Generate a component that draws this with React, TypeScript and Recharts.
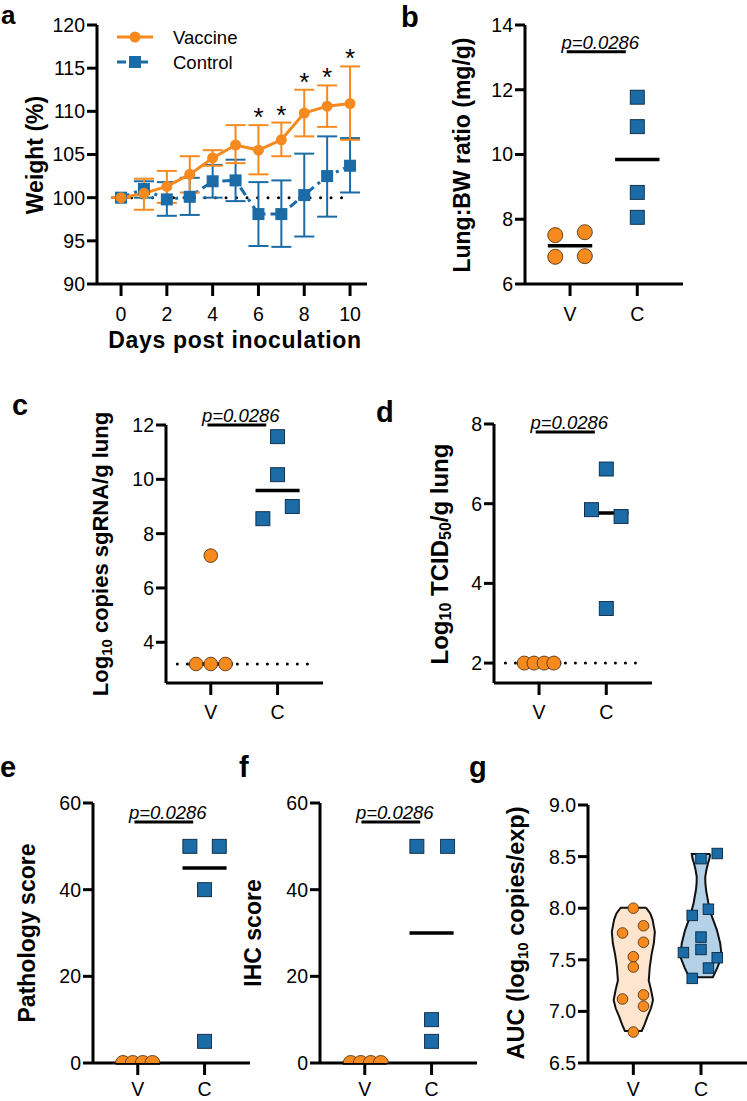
import React from 'react';
import {
  ComposedChart,
  Line,
  Scatter,
  XAxis,
  YAxis,
  ErrorBar,
  ReferenceLine,
  Legend,
  Label,
} from 'recharts';

const FONT = '"Liberation Sans", Arial, Helvetica, sans-serif';
const ORANGE = '#F68A1F';
const BLUE = '#1A6BA6';
const ORANGE_FILL = '#FDE5D0';
const BLUE_FILL = '#B4D2E7';

// ---------- Panel a: weight ----------
const days = [0, 1, 2, 3, 4, 5, 6, 7, 8, 9, 10];
const vaccineMean = [100, 100.5, 101.3, 102.7, 104.6, 106.1, 105.5, 106.7, 109.8, 110.6, 110.9];
const vaccineUpper = [100, 102.2, 103.1, 104.8, 105.5, 108.4, 108.4, 108.7, 112.5, 113.0, 115.2];
const vaccineLower = [100, 98.6, 99.4, 100.6, 103.7, 104.0, 102.7, 104.8, 107.1, 108.2, 106.7];
const controlMean = [100, 101.0, 99.8, 100.1, 101.9, 102.0, 98.1, 98.1, 100.3, 102.5, 103.7];
const controlUpper = [100, 101.9, 101.8, 102.3, 103.8, 104.4, 101.8, 102.0, 105.1, 107.1, 106.9];
const controlLower = [100, 100.0, 97.9, 98.0, 100.0, 99.6, 94.4, 94.3, 95.5, 97.8, 100.6];
const starDays = [6, 7, 8, 9, 10];
const weightTicks = [90, 95, 100, 105, 110, 115, 120];
const dayTicks = [0, 2, 4, 6, 8, 10];
const baselineWeight = 100;

// ---------- categorical groups ----------
const groups = ['V', 'C'];

// Panel b: lung:BW ratio
const lungV = [7.51, 7.6, 6.84, 6.86];
const lungVOff = [-0.22, 0.22, -0.22, 0.22];
const lungC = [11.77, 10.86, 8.83, 8.06];
const lungCOff = [0, 0, 0, 0];
const lungTicks = [6, 8, 10, 12, 14];

// Panel c: sgRNA
const sgV = [7.19, 3.2, 3.2, 3.2];
const sgVOff = [0, -0.22, 0, 0.22];
const sgC = [11.57, 10.17, 8.55, 9.0];
const sgCOff = [0, 0, -0.22, 0.22];
const sgTicks = [4, 6, 8, 10, 12];
const sgLod = 3.2;

// Panel d: TCID50
const tcV = [2, 2, 2, 2];
const tcVOff = [-0.22, -0.075, 0.075, 0.22];
const tcC = [6.87, 5.85, 5.68, 3.37];
const tcCOff = [0, -0.22, 0.22, 0];
const tcTicks = [2, 4, 6, 8];
const tcLod = 2;

// Panel e: pathology
const pathV = [0, 0, 0, 0];
const pathVOff = [-0.22, -0.075, 0.075, 0.22];
const pathC = [50, 50, 40, 5];
const pathCOff = [-0.22, 0.22, 0, 0];
const scoreTicks = [0, 20, 40, 60];

// Panel f: IHC
const ihcV = [0, 0, 0, 0];
const ihcVOff = [-0.21, -0.06, 0.09, 0.24];
const ihcC = [50, 50, 10, 5];
const ihcCOff = [-0.22, 0.24, 0, 0];

// Panel g: AUC violins
const aucV = [8.0, 7.83, 7.76, 7.67, 7.53, 7.43, 7.16, 7.12, 7.05, 6.8];
const aucVOff = [0, 0.15, -0.16, 0.15, 0, 0, 0.15, -0.16, 0.15, 0];
const aucC = [8.53, 8.48, 7.99, 7.93, 7.72, 7.6, 7.57, 7.52, 7.42, 7.32];
const aucCOff = [0.24, 0, 0.11, -0.13, 0, 0, -0.26, 0.24, 0.11, -0.13];
const aucTicks = [6.5, 7.0, 7.5, 8.0, 8.5, 9.0];
const violinVY = [8.005, 7.95, 7.89, 7.77, 7.66, 7.55, 7.43, 7.3, 7.21, 7.11, 7.03, 6.95, 6.87, 6.81];
const violinVHW = [0.187, 0.25, 0.284, 0.318, 0.303, 0.269, 0.243, 0.228, 0.261, 0.291, 0.261, 0.209, 0.164, 0.124];
const violinCY = [8.525, 8.48, 8.435, 8.37, 8.305, 8.24, 8.176, 8.05, 7.92, 7.79, 7.66, 7.53, 7.42, 7.33];
const violinCHW = [0.137, 0.125, 0.104, 0.08, 0.063, 0.065, 0.075, 0.109, 0.161, 0.234, 0.284, 0.306, 0.239, 0.175];

const pLabel = 'p=0.0286';

// ---------- helpers ----------
const CAT_DOMAIN: [number, number] = [0.33, 2.68];
const V_POS = 1;
const C_POS = 2;
const MED_HW = 0.33;

const median = (a: number[]) => {
  const s = [...a].sort((x, y) => x - y);
  const n = s.length;
  return n % 2 ? s[(n - 1) / 2] : (s[n / 2 - 1] + s[n / 2]) / 2;
};
const quantile = (a: number[], p: number) => {
  const s = [...a].sort((x, y) => x - y);
  const n = s.length;
  const pos = p * (n + 1);
  const lo = Math.floor(pos);
  const fr = pos - lo;
  if (lo < 1) return s[0];
  if (lo >= n) return s[n - 1];
  return s[lo - 1] + fr * (s[lo] - s[lo - 1]);
};
const pts = (vals: number[], offs: number[], center: number) =>
  vals.map((v, i) => ({ x: center + offs[i], y: v }));
const outline = (center: number, ys: number[], hws: number[]) => {
  const right = ys.map((y, i) => ({ x: center + hws[i], y }));
  const left = ys.map((y, i) => ({ x: center - hws[i], y })).reverse();
  return [...right, ...left, right[0]];
};
const hwAt = (ys: number[], hws: number[], y: number) => {
  for (let i = 0; i < ys.length - 1; i++) {
    const a = ys[i];
    const b = ys[i + 1];
    if ((y <= a && y >= b) || (y >= a && y <= b)) {
      const t = (y - a) / (b - a);
      return hws[i] + t * (hws[i + 1] - hws[i]);
    }
  }
  return hws[hws.length - 1];
};

const axisStyle = { stroke: '#000', strokeWidth: 3 };
const tickStyle = { fill: '#000', fontSize: 19.5, fontFamily: FONT };

const circleShape = (r: number) => (p: any) => (
  <circle cx={p.cx} cy={p.cy} r={r} fill={ORANGE} stroke="#5a3510" strokeWidth={0.9} />
);
const squareShape = (s: number) => (p: any) => (
  <rect x={p.cx - s / 2} y={p.cy - s / 2} width={s} height={s} fill={BLUE} stroke="#0c2840" strokeWidth={0.9} />
);
const emptyShape = () => <g />;

const yTitle = (cx: number, cy: number, content: React.ReactNode, fontSize = 23) => (
  <Label
    content={() => (
      <text
        x={cx}
        y={cy}
        transform={`rotate(-90 ${cx} ${cy})`}
        textAnchor="middle"
        dominantBaseline="central"
        fontFamily={FONT}
        fontWeight="bold"
        fontSize={fontSize}
        fill="#000"
      >
        {content}
      </text>
    )}
  />
);

// ---------- Panel A ----------
const weightData = days.map((d, i) => ({
  day: d,
  base: baselineWeight,
  vac: vaccineMean[i],
  vacErr: [vaccineMean[i] - vaccineLower[i], vaccineUpper[i] - vaccineMean[i]],
  ctl: controlMean[i],
  ctlErr: [controlMean[i] - controlLower[i], controlUpper[i] - controlMean[i]],
}));
const starData = starDays.map((d) => ({ day: d, y: vaccineUpper[days.indexOf(d)] }));

const WeightLegend = () => (
  <svg width={150} height={50} style={{ overflow: 'visible' }}>
    <line x1={4} x2={40} y1={13} y2={13} stroke={ORANGE} strokeWidth={3} />
    <circle cx={22} cy={13} r={5.5} fill={ORANGE} />
    <text x={60} y={13} dominantBaseline="central" fontSize={18.5} fontFamily={FONT} fill="#000">
      Vaccine
    </text>
    <line x1={4} x2={40} y1={38} y2={38} stroke={BLUE} strokeWidth={3} strokeDasharray="9 5 3 5" />
    <rect x={16} y={32} width={12} height={12} fill={BLUE} />
    <text x={60} y={38} dominantBaseline="central" fontSize={18.5} fontFamily={FONT} fill="#000">
      Control
    </text>
  </svg>
);

const PanelA = () => (
  <div style={{ position: 'absolute', left: 0, top: 0 }}>
    <ComposedChart width={380} height={362} data={weightData} margin={{ top: 25, right: 13, left: 0, bottom: 0 }}>
      <XAxis
        type="number"
        dataKey="day"
        domain={[-1.05, 10.74]}
        allowDataOverflow
        ticks={dayTicks}
        height={78}
        axisLine={axisStyle}
        tickLine={axisStyle}
        tickSize={12}
        tickMargin={11}
        tick={tickStyle}
      >
        <Label
          content={() => (
            <text x={235} y={340} textAnchor="middle" dominantBaseline="central" fontFamily={FONT} fontWeight="bold" fontSize={23} letterSpacing={0.7} fill="#000">
              Days post inoculation
            </text>
          )}
        />
      </XAxis>
      <YAxis
        type="number"
        domain={[90, 120]}
        allowDataOverflow
        ticks={weightTicks}
        width={97}
        axisLine={axisStyle}
        tickLine={axisStyle}
        tickSize={10}
        tickMargin={2}
        tick={tickStyle}
      >
        {yTitle(35, 155, 'Weight (%)')}
      </YAxis>
      <Legend
        layout="horizontal"
        verticalAlign="middle"
        align="center"
        content={() => <WeightLegend />}
        wrapperStyle={{ left: 113, top: 24, width: 150, height: 50 }}
      />
      <Line
        dataKey="base"
        stroke="#000"
        strokeWidth={3}
        strokeDasharray="0 10.5"
        strokeLinecap="round"
        dot={false}
        activeDot={false}
        legendType="none"
        isAnimationActive={false}
      />
      <Line
        dataKey="ctl"
        stroke={BLUE}
        strokeWidth={3}
        strokeDasharray="9 5 3 5"
        isAnimationActive={false}
        activeDot={false}
        dot={(p: any) => (
          <rect key={`c${p.index}`} x={p.cx - 6} y={p.cy - 6} width={12} height={12} fill={BLUE} />
        )}
      >
        <ErrorBar dataKey="ctlErr" direction="y" width={10} stroke={BLUE} strokeWidth={2} />
      </Line>
      <Line
        dataKey="vac"
        stroke={ORANGE}
        strokeWidth={3}
        isAnimationActive={false}
        activeDot={false}
        dot={(p: any) => <circle key={`v${p.index}`} cx={p.cx} cy={p.cy} r={5.5} fill={ORANGE} />}
      >
        <ErrorBar dataKey="vacErr" direction="y" width={10} stroke={ORANGE} strokeWidth={2} />
      </Line>
      <Scatter
        data={starData}
        dataKey="y"
        isAnimationActive={false}
        legendType="none"
        shape={(p: any) => (
          <text x={p.cx} y={p.cy + 1} textAnchor="middle" fontSize={26} fontFamily={FONT} fill="#000">
            *
          </text>
        )}
      />
    </ComposedChart>
  </div>
);

// ---------- generic dot panel ----------
type DotPanelProps = {
  left: number;
  top: number;
  width: number;
  height: number;
  yWidth: number;
  mTop: number;
  mRight: number;
  xHeight: number;
  xTickMargin: number;
  yDomain: [number, number];
  yTicks: number[];
  vVals: number[];
  vOff: number[];
  cVals: number[];
  cOff: number[];
  pY: number;
  lod?: number;
  title: React.ReactNode;
  rCircle: number;
  sSquare: number;
};

const catFmt = (v: number) => (v === V_POS ? groups[0] : groups[1]);

const DotPanel = (p: DotPanelProps) => {
  const vMed = median(p.vVals);
  const cMed = median(p.cVals);
  return (
    <div style={{ position: 'absolute', left: p.left, top: p.top }}>
      <ComposedChart width={p.width} height={p.height} margin={{ top: p.mTop, right: p.mRight, left: 0, bottom: 0 }}>
        <XAxis
          type="number"
          dataKey="x"
          domain={CAT_DOMAIN}
          allowDataOverflow
          ticks={[V_POS, C_POS]}
          tickFormatter={catFmt}
          height={p.xHeight}
          axisLine={axisStyle}
          tickLine={axisStyle}
          tickSize={12}
          tickMargin={p.xTickMargin}
          tick={tickStyle}
        />
        <YAxis
          type="number"
          domain={p.yDomain}
          allowDataOverflow
          ticks={p.yTicks}
          width={p.yWidth}
          axisLine={axisStyle}
          tickLine={axisStyle}
          tickSize={10}
          tickMargin={2}
          tick={tickStyle}
        >
          {p.title}
        </YAxis>
        {p.lod !== undefined && (
          <ReferenceLine
            segment={[
              { x: 0.5, y: p.lod },
              { x: 2.52, y: p.lod },
            ]}
            stroke="#000"
            strokeWidth={3}
            strokeDasharray="0 10"
            strokeLinecap="round"
            ifOverflow="visible"
          />
        )}
        <Scatter data={pts(p.vVals, p.vOff, V_POS)} dataKey="y" shape={circleShape(p.rCircle)} isAnimationActive={false} />
        <Scatter data={pts(p.cVals, p.cOff, C_POS)} dataKey="y" shape={squareShape(p.sSquare)} isAnimationActive={false} />
        <ReferenceLine
          segment={[
            { x: V_POS - MED_HW, y: vMed },
            { x: V_POS + MED_HW, y: vMed },
          ]}
          stroke="#000"
          strokeWidth={3.5}
          ifOverflow="visible"
        />
        <ReferenceLine
          segment={[
            { x: C_POS - MED_HW, y: cMed },
            { x: C_POS + MED_HW, y: cMed },
          ]}
          stroke="#000"
          strokeWidth={3.5}
          ifOverflow="visible"
        />
        <ReferenceLine
          segment={[
            { x: 0.95, y: p.pY },
            { x: 1.83, y: p.pY },
          ]}
          stroke="#000"
          strokeWidth={3}
          ifOverflow="visible"
          label={{
            value: pLabel,
            position: 'top',
            offset: 3,
            fontStyle: 'italic',
            fontSize: 18.5,
            fontFamily: FONT,
            fill: '#000',
            dx: 4,
          }}
        />
      </ComposedChart>
    </div>
  );
};

// ---------- Panel G ----------
const vMedAuc = median(aucV);
const cMedAuc = median(aucC);
const violinLines = [
  { c: V_POS, y: vMedAuc, ys: violinVY, hws: violinVHW, kind: 'med' },
  { c: V_POS, y: quantile(aucV, 0.25), ys: violinVY, hws: violinVHW, kind: 'q' },
  { c: V_POS, y: quantile(aucV, 0.75), ys: violinVY, hws: violinVHW, kind: 'q' },
  { c: C_POS, y: cMedAuc, ys: violinCY, hws: violinCHW, kind: 'med' },
  { c: C_POS, y: quantile(aucC, 0.25), ys: violinCY, hws: violinCHW, kind: 'q' },
  { c: C_POS, y: quantile(aucC, 0.75), ys: violinCY, hws: violinCHW, kind: 'q' },
];

const PanelG = () => (
  <div style={{ position: 'absolute', left: 470, top: 740 }}>
    <ComposedChart width={277} height={361} margin={{ top: 65, right: 0, left: 0, bottom: 0 }}>
      <XAxis
        type="number"
        dataKey="x"
        domain={CAT_DOMAIN}
        allowDataOverflow
        ticks={[V_POS, C_POS]}
        tickFormatter={catFmt}
        height={38}
        axisLine={axisStyle}
        tickLine={axisStyle}
        tickSize={12}
        tickMargin={7}
        tick={tickStyle}
      />
      <YAxis
        type="number"
        domain={[6.5, 9.0]}
        allowDataOverflow
        ticks={aucTicks}
        tickFormatter={(v: number) => v.toFixed(1)}
        width={118}
        axisLine={axisStyle}
        tickLine={axisStyle}
        tickSize={10}
        tickMargin={2}
        tick={tickStyle}
      >
        {yTitle(
          46,
          193,
          <>
            <tspan>AUC (log</tspan>
            <tspan fontSize={15} dy={6}>10</tspan>
            <tspan dy={-6}> copies/exp)</tspan>
          </>,
          23.5
        )}
      </YAxis>
      <Scatter
        data={outline(V_POS, violinVY, violinVHW)}
        dataKey="y"
        shape={emptyShape}
        line={{ fill: ORANGE_FILL, stroke: '#111', strokeWidth: 2 }}
        lineType="joint"
        lineJointType="linear"
        isAnimationActive={false}
      />
      <Scatter
        data={outline(C_POS, violinCY, violinCHW)}
        dataKey="y"
        shape={emptyShape}
        line={{ fill: BLUE_FILL, stroke: '#111', strokeWidth: 2 }}
        lineType="joint"
        lineJointType="linear"
        isAnimationActive={false}
      />
      <Scatter data={pts(aucV, aucVOff, V_POS)} dataKey="y" shape={circleShape(5.3)} isAnimationActive={false} />
      <Scatter data={pts(aucC, aucCOff, C_POS)} dataKey="y" shape={squareShape(10.5)} isAnimationActive={false} />
      {violinLines.map((l, i) => {
        const hw = hwAt(l.ys, l.hws, l.y);
        return (
          <ReferenceLine
            key={i}
            segment={[
              { x: l.c - hw, y: l.y },
              { x: l.c + hw, y: l.y },
            ]}
            stroke={l.kind === 'med' ? '#000' : '#666'}
            strokeWidth={l.kind === 'med' ? 2 : 1}
            strokeDasharray={l.kind === 'med' ? '5 3' : '1.5 2'}
            ifOverflow="visible"
          />
        );
      })}
    </ComposedChart>
  </div>
);

const letters = [
  { t: 'a', x: 1, y: 24, s: 26 },
  { t: 'b', x: 401, y: 27, s: 29 },
  { t: 'c', x: 12, y: 415, s: 29 },
  { t: 'd', x: 376, y: 422, s: 29 },
  { t: 'e', x: 0, y: 777, s: 29 },
  { t: 'f', x: 239, y: 777, s: 29 },
  { t: 'g', x: 469, y: 777, s: 29 },
];

export default function App() {
  return (
    <div style={{ position: 'relative', width: 747, height: 1101, background: '#fff', fontFamily: FONT, overflow: 'hidden' }}>
      <style>{'body{margin:0;}'}</style>
      <PanelA />
      <DotPanel
        left={380}
        top={0}
        width={367}
        height={350}
        yWidth={145}
        mTop={25}
        mRight={64}
        xHeight={66}
        xTickMargin={11}
        yDomain={[6, 14]}
        yTicks={lungTicks}
        vVals={lungV}
        vOff={lungVOff}
        cVals={lungC}
        cOff={lungCOff}
        pY={13.17}
        rCircle={7.5}
        sSquare={14}
        title={yTitle(82, 155, 'Lung:BW ratio (mg/g)')}
      />
      <DotPanel
        left={0}
        top={380}
        width={370}
        height={352}
        yWidth={166}
        mTop={45}
        mRight={47}
        xHeight={49}
        xTickMargin={10}
        yDomain={[2.5, 12]}
        yTicks={sgTicks}
        vVals={sgV}
        vOff={sgVOff}
        cVals={sgC}
        cOff={sgCOff}
        pY={12}
        lod={sgLod}
        rCircle={6.8}
        sSquare={14}
        title={yTitle(
          100,
          174,
          <>
            <tspan>Log</tspan>
            <tspan fontSize={15} dy={6}>10</tspan>
            <tspan dy={-6}> copies sgRNA/g lung</tspan>
          </>,
          22
        )}
      />
      <DotPanel
        left={370}
        top={380}
        width={377}
        height={352}
        yWidth={124}
        mTop={44}
        mRight={95}
        xHeight={49}
        xTickMargin={10}
        yDomain={[1.5, 8]}
        yTicks={tcTicks}
        vVals={tcV}
        vOff={tcVOff}
        cVals={tcC}
        cOff={tcCOff}
        pY={7.8}
        lod={tcLod}
        rCircle={7}
        sSquare={14}
        title={yTitle(
          69,
          174,
          <>
            <tspan>Log</tspan>
            <tspan fontSize={16} dy={6}>10</tspan>
            <tspan dy={-6}> TCID</tspan>
            <tspan fontSize={16} dy={6}>50</tspan>
            <tspan dy={-6}>/g lung</tspan>
          </>,
          24
        )}
      />
      <DotPanel
        left={0}
        top={740}
        width={262}
        height={361}
        yWidth={93}
        mTop={63}
        mRight={12}
        xHeight={38}
        xTickMargin={7}
        yDomain={[0, 60]}
        yTicks={scoreTicks}
        vVals={pathV}
        vOff={pathVOff}
        cVals={pathC}
        cOff={pathCOff}
        pY={55.6}
        rCircle={7.5}
        sSquare={14}
        title={yTitle(27, 193, 'Pathology score')}
      />
      <DotPanel
        left={235}
        top={740}
        width={250}
        height={361}
        yWidth={85}
        mTop={63}
        mRight={8}
        xHeight={38}
        xTickMargin={7}
        yDomain={[0, 60]}
        yTicks={scoreTicks}
        vVals={ihcV}
        vOff={ihcVOff}
        cVals={ihcC}
        cOff={ihcCOff}
        pY={55.6}
        rCircle={7.5}
        sSquare={14}
        title={yTitle(18, 193, 'IHC score')}
      />
      <PanelG />
      <svg width={747} height={1101} style={{ position: 'absolute', left: 0, top: 0, pointerEvents: 'none' }}>
        {letters.map((l) => (
          <text key={l.t} x={l.x} y={l.y} fontFamily={FONT} fontWeight="bold" fontSize={l.s} fill="#000">
            {l.t}
          </text>
        ))}
      </svg>
    </div>
  );
}
